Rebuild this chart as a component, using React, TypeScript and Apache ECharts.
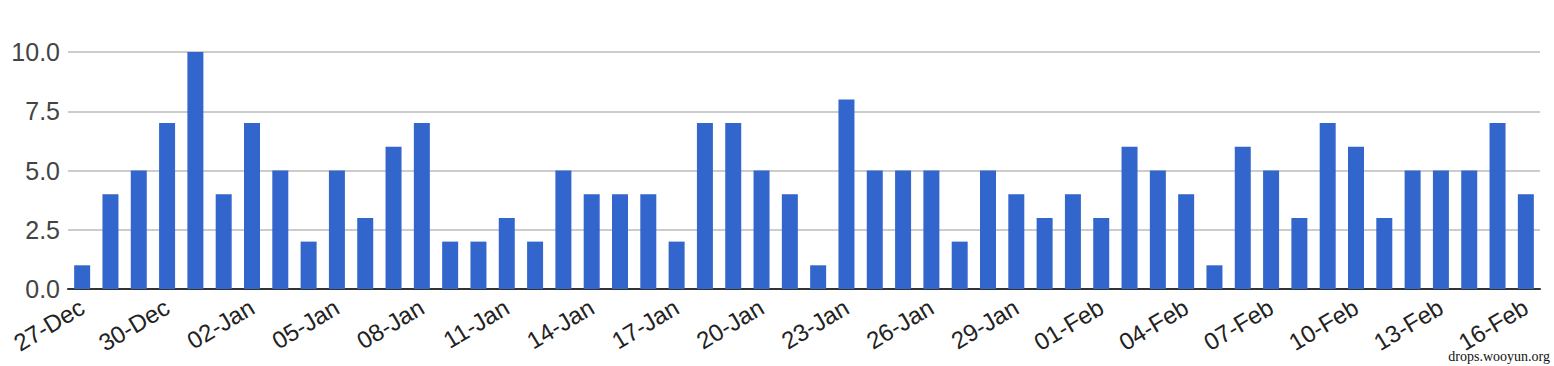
import React, { useEffect, useRef } from "react";
import * as echarts from "echarts";

const categories = [
  "27-Dec", "28-Dec", "29-Dec", "30-Dec", "31-Dec",
  "01-Jan", "02-Jan", "03-Jan", "04-Jan", "05-Jan", "06-Jan", "07-Jan", "08-Jan", "09-Jan", "10-Jan",
  "11-Jan", "12-Jan", "13-Jan", "14-Jan", "15-Jan", "16-Jan", "17-Jan", "18-Jan", "19-Jan", "20-Jan",
  "21-Jan", "22-Jan", "23-Jan", "24-Jan", "25-Jan", "26-Jan", "27-Jan", "28-Jan", "29-Jan", "30-Jan", "31-Jan",
  "01-Feb", "02-Feb", "03-Feb", "04-Feb", "05-Feb", "06-Feb", "07-Feb", "08-Feb", "09-Feb", "10-Feb",
  "11-Feb", "12-Feb", "13-Feb", "14-Feb", "15-Feb", "16-Feb",
];

const values = [
  1, 4, 5, 7, 10,
  4, 7, 5, 2, 5, 3, 6, 7, 2, 2,
  3, 2, 5, 4, 4, 4, 2, 7, 7, 5,
  4, 1, 8, 5, 5, 5, 2, 5, 4, 3, 4,
  3, 6, 5, 4, 1, 6, 5, 3, 7, 6,
  3, 5, 5, 5, 7, 4,
];

const watermark = "drops.wooyun.org";

export default function App() {
  const ref = useRef<HTMLDivElement>(null);
  useEffect(() => {
    document.body.style.margin = "0";
    const chart = echarts.init(ref.current!, undefined, { renderer: "svg" });
    chart.setOption({
      animation: false,
      grid: { left: 68, right: 14, top: 52, bottom: 77, containLabel: false },
      xAxis: {
        type: "category",
        data: categories,
        axisTick: { show: false },
        axisLine: { lineStyle: { color: "#333", width: 2 } },
        axisLabel: {
          interval: 2,
          rotate: 31,
          fontFamily: "'Liberation Sans', Arial, sans-serif",
          fontSize: 24,
          color: "#222",
          margin: 16,
        },
      },
      yAxis: {
        type: "value",
        min: 0,
        max: 10,
        interval: 2.5,
        axisLine: { show: false },
        axisTick: { show: false },
        splitLine: { lineStyle: { color: "#ccc", width: 2 } },
        axisLabel: {
          formatter: (v: number) => v.toFixed(1),
          fontFamily: "'Liberation Sans', Arial, sans-serif",
          fontSize: 25,
          color: "#444",
          margin: 8,
        },
      },
      series: [
        {
          type: "bar",
          data: values,
          barWidth: 16,
          itemStyle: { color: "#3366cc" },
        },
      ],
      graphic: [
        {
          type: "text",
          right: 4,
          top: 349,
          z: 100,
          style: {
            text: watermark,
            font: "14px 'Liberation Serif', 'DejaVu Serif', serif",
            fill: "#111",
          },
        },
      ],
    });
    return () => chart.dispose();
  }, []);
  return <div ref={ref} style={{ width: 1554, height: 366 }} />;
}
